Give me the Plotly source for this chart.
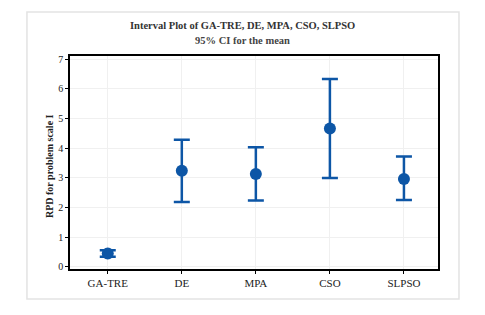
import plotly.graph_objects as go

categories = ["GA-TRE", "DE", "MPA", "CSO", "SLPSO"]
means = [0.44, 3.24, 3.13, 4.66, 2.96]
upper = [0.55, 4.28, 4.03, 6.33, 3.72]
lower = [0.33, 2.18, 2.23, 2.99, 2.25]
y_ticks = [0, 1, 2, 3, 4, 5, 6, 7]

err_plus = [u - m for u, m in zip(upper, means)]
err_minus = [m - l for m, l in zip(means, lower)]

color = "#0d56a6"
serif = "Liberation Serif, Times New Roman, serif"

fig = go.Figure()
fig.add_trace(go.Scatter(
    x=categories, y=means, mode="markers",
    marker=dict(color=color, size=12),
    error_y=dict(type="data", symmetric=False, array=err_plus, arrayminus=err_minus,
                 color=color, thickness=2.5, width=8),
    showlegend=False,
))

fig.update_layout(
    width=477, height=307,
    margin=dict(l=62, r=47, t=48, b=46),
    paper_bgcolor="white", plot_bgcolor="white",
    font=dict(family=serif, size=11, color="#222"),
    xaxis=dict(
        type="category", range=[-0.51, 4.46],
        showline=True, linecolor="black", linewidth=1.5, mirror=True,
        ticks="outside", ticklen=3, tickcolor="black",
        showgrid=True, gridcolor="#f0f0f0", gridwidth=1,
        tickfont=dict(family=serif, size=11, color="#222"),
        zeroline=False,
    ),
    yaxis=dict(
        range=[-0.08, 7.11], tickvals=y_ticks,
        showline=True, linecolor="black", linewidth=1.5, mirror=True,
        ticks="outside", ticklen=3, tickcolor="black",
        showgrid=True, gridcolor="#f0f0f0", gridwidth=1,
        tickfont=dict(family=serif, size=10, color="#222"),
        zeroline=False,
    ),
    annotations=[
        dict(text="<b>Interval Plot of GA-TRE, DE, MPA, CSO, SLPSO</b>", xref="paper", yref="paper",
             x=0.47, y=1.141, xanchor="center", yanchor="middle", showarrow=False,
             font=dict(family=serif, size=10.5, color="#333")),
        dict(text="<b>95% CI for the mean</b>", xref="paper", yref="paper",
             x=0.47, y=1.075, xanchor="center", yanchor="middle", showarrow=False,
             font=dict(family=serif, size=10.5, color="#444")),
        dict(text="<b>RPD for problem scale I</b>", xref="paper", yref="paper",
             x=-0.054, y=0.484, xanchor="center", yanchor="middle", showarrow=False,
             textangle=-90, font=dict(family=serif, size=10, color="#222")),
    ],
    shapes=[dict(type="rect", xref="paper", yref="paper",
                 x0=-0.117, x1=1.057, y0=-0.141, y1=1.207,
                 line=dict(color="#e3e3e3", width=1.5), layer="below")],
)

fig.write_html("out.html")
